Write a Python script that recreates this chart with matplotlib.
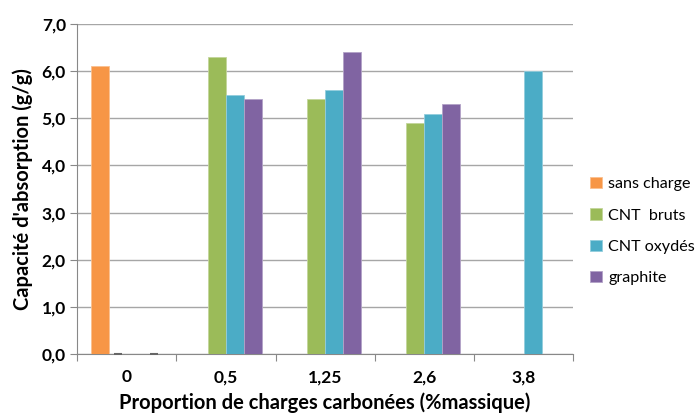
import numpy as np
import matplotlib.pyplot as plt
from matplotlib.colors import to_rgb

# proportion of carbon fillers (% by mass)
categories = ["0", "0,5", "1,25", "2,6", "3,8"]
series_names = ["sans charge", "CNT  bruts", "CNT oxydés", "graphite"]

sans_charge = [6.1, np.nan, np.nan, np.nan, np.nan]
cnt_bruts = [0.0, 6.3, 5.4, 4.9, np.nan]
cnt_oxydes = [np.nan, 5.5, 5.6, 5.1, 6.0]
graphite = [0.0, 5.4, 6.4, 5.3, np.nan]

colors = ["#F79646", "#9BBB59", "#4BACC6", "#8064A2"]

plt.rcParams["font.family"] = ["Lato", "DejaVu Sans"]

fig = plt.figure(figsize=(7, 4.15), dpi=100)
ax = fig.add_axes([0.110, 0.147, 0.709, 0.795])

x = np.arange(len(categories))
width = 0.1815
all_series = [sans_charge, cnt_bruts, cnt_oxydes, graphite]

for k, (vals, name, col) in enumerate(zip(all_series, series_names, colors)):
    vals = np.array(vals, dtype=float)
    pos = x + (k - 1.5) * width
    edge = tuple(0.6 * c + 0.4 for c in to_rgb(col))
    ax.bar(pos, vals, width, color=col, edgecolor=edge, linewidth=0.6,
           label=name, zorder=3)
    # zero-valued bars only show up as a short dark dash
    zero = vals == 0
    ax.scatter(pos[zero], vals[zero], marker="_", s=40, color="#666666",
               linewidths=1.5, zorder=4)

ax.set_xlim(-0.5, len(categories) - 0.5)
ax.set_ylim(0, 7)
ax.set_yticks(np.arange(0, 8, 1))
ax.set_yticklabels([f"{v:.1f}".replace(".", ",") for v in range(8)],
                   fontsize=12.5, fontweight="bold")
ax.yaxis.grid(True, color="#A6A6A6", linewidth=1)
ax.set_axisbelow(True)

# category labels between boundary ticks
ax.set_xticks(np.arange(-0.5, len(categories), 1))
ax.set_xticklabels([])
ax.set_xticks(x, minor=True)
ax.set_xticklabels(categories, minor=True, fontsize=12.5, fontweight="bold")
ax.tick_params(axis="x", which="minor", length=0, pad=11)
ax.tick_params(axis="x", which="major", length=5, color="#888888")
ax.tick_params(axis="y", length=5, color="#888888", pad=3)

for side in ["top", "right"]:
    ax.spines[side].set_visible(False)
for side in ["left", "bottom"]:
    ax.spines[side].set_color("#888888")

ax.set_ylabel("Capacité d'absorption (g/g)", fontsize=14.5, fontweight="bold",
              labelpad=6)
ax.set_xlabel("Proportion de charges carbonées (%massique)", fontsize=14.5,
              fontweight="bold", labelpad=5)

ax.legend(loc="upper left", bbox_to_anchor=(1.005, 0.58), frameon=False,
          fontsize=11.6, handlelength=0.7, handleheight=0.7,
          handletextpad=0.4, labelspacing=1.05)

fig.savefig("out.png", dpi=100)
